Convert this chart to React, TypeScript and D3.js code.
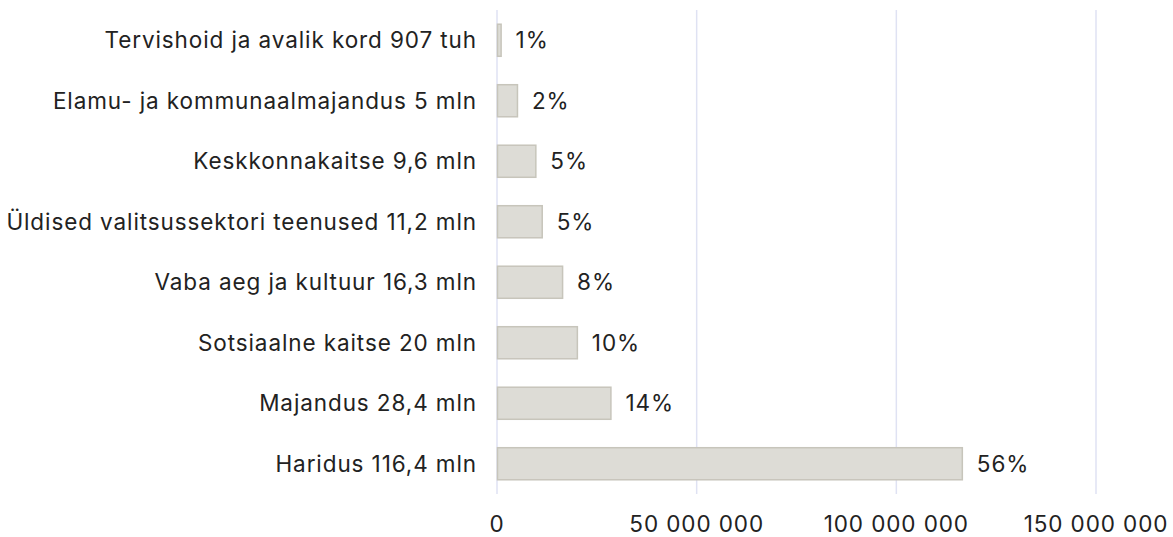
import React from 'react';
import * as d3 from 'd3';

const categories = [
  'Tervishoid ja avalik kord 907 tuh',
  'Elamu- ja kommunaalmajandus 5 mln',
  'Keskkonnakaitse 9,6 mln',
  'Üldised valitsussektori teenused 11,2 mln',
  'Vaba aeg ja kultuur 16,3 mln',
  'Sotsiaalne kaitse 20 mln',
  'Majandus 28,4 mln',
  'Haridus 116,4 mln',
];
const values = [907000, 5000000, 9600000, 11200000, 16300000, 20000000, 28400000, 116400000];
const shares = ['1%', '2%', '5%', '5%', '8%', '10%', '14%', '56%'];
const ticks = [0, 50000000, 100000000, 150000000];

const App = () => {
  const width = 1173;
  const height = 537;
  const left = 497;
  const right = 1096;
  const top = 10;
  const bottom = 494;

  const x = d3.scaleLinear().domain([0, 150000000]).range([left, right]);
  const y = d3.scaleBand<string>().domain(categories).range([top, bottom]).paddingInner(0.47).paddingOuter(0.235);
  const fmt = (v: number) => d3.format(',')(v).replace(/,/g, ' ');
  const font = 'Inter, "Noto Sans", sans-serif';
  const fs = 22.5;
  const ls = 0.9;

  return (
    <svg width={width} height={height} style={{ position: 'absolute', left: 0, top: 0 }} fontFamily={font} letterSpacing={ls}>
      {ticks.map((t) => (
        <line key={'g' + t} x1={x(t)} x2={x(t)} y1={top} y2={bottom} stroke="#dfe2f3" strokeWidth={1.5} />
      ))}
      {categories.map((c, i) => (
        <g key={c}>
          <rect
            x={x(0) + 0.5}
            y={y(c)!}
            width={x(values[i]) - x(0)}
            height={y.bandwidth()}
            fill="#dddcd6"
            stroke="#c7c5bb"
            strokeWidth={1.5}
          />
          <text x={x(0) - 20} y={y(c)! + y.bandwidth() / 2} dy="0.35em" textAnchor="end" fontSize={fs} fill="#222">
            {c}
          </text>
          <text x={x(values[i]) + 15} y={y(c)! + y.bandwidth() / 2} dy="0.35em" fontSize={fs} fill="#222">
            {shares[i]}
          </text>
        </g>
      ))}
      {ticks.map((t) => (
        <text key={'t' + t} x={x(t)} y={524} dy="0.35em" textAnchor="middle" fontSize={fs} fill="#222">
          {fmt(t)}
        </text>
      ))}
    </svg>
  );
};

export default App;
